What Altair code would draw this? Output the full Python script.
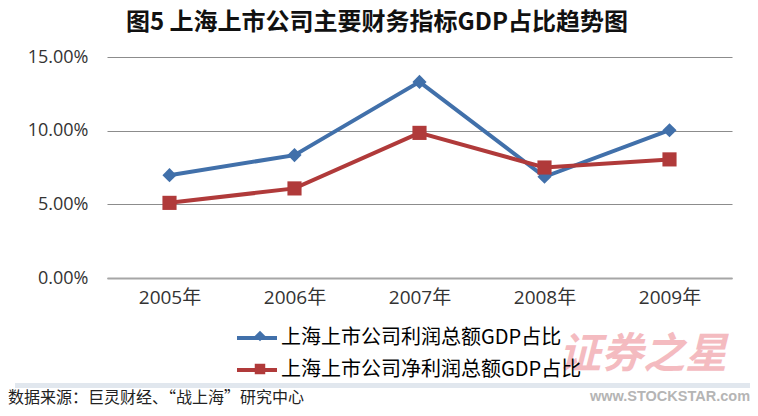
import altair as alt
import pandas as pd

years = ["2005年", "2006年", "2007年", "2008年", "2009年"]
profit_ratio = [0.0698, 0.0834, 0.1331, 0.0687, 0.1003]
net_profit_ratio = [0.0510, 0.0608, 0.0985, 0.0750, 0.0805]
series_names = ["上海上市公司利润总额GDP占比", "上海上市公司净利润总额GDP占比"]
marker_keys = ["diamond", "square"]
series_colors = ["#4170aa", "#b03a3a"]
y_ticks = [0, 0.05, 0.10, 0.15]
title_text = "图5 上海上市公司主要财务指标GDP占比趋势图"
source_text = "数据来源：巨灵财经、“战上海”研究中心"
watermark_cn = "证券之星"
watermark_en = "www.STOCKSTAR.com"

rows = []
for name, mk, vals in zip(series_names, marker_keys, [profit_ratio, net_profit_ratio]):
    for yr, v in zip(years, vals):
        rows.append({"year": yr, "series": name, "marker": mk, "value": v})
df = pd.DataFrame(rows)

W, H = 625, 221

x_enc = alt.X(
    "year:N", sort=years,
    scale=alt.Scale(type="point", padding=0.5),
    axis=alt.Axis(title=None, labelAngle=0, ticks=False, domain=True,
                  domainColor="#a6a6a6", domainWidth=2,
                  labelFont="Open Sans, Noto Sans CJK SC", labelFontSize=19,
                  labelColor="#333333", labelPadding=10),
)
y_enc = alt.Y(
    "value:Q",
    scale=alt.Scale(domain=[0, 0.15], nice=False, zero=True),
    axis=alt.Axis(title=None, values=y_ticks, format=".2%", grid=True,
                  gridColor="#8c8c8c", gridWidth=1.2, domain=False, ticks=False,
                  labelFont="Open Sans", labelFontSize=18, labelColor="#333333",
                  labelPadding=19),
)

# legend A: line segments + labels (from the line layer)
legend_lines = alt.Legend(
    orient="none", legendX=128, legendY=259, title=None, direction="vertical",
    labelFont="Noto Sans CJK SC", labelFontSize=20, labelColor="#000000",
    labelLimit=500, symbolType="stroke", symbolSize=1600, symbolStrokeWidth=4,
    symbolOpacity=1, labelOffset=2, rowPadding=-29, padding=0,
)
# legend B: markers only, laid over the centre of the line segments (from the point layer)
legend_markers = alt.Legend(
    orient="none", legendX=143, legendY=269, title=None, direction="vertical",
    labelFontSize=20, labelExpr="' '", labelOpacity=0,
    symbolSize=110, symbolStrokeWidth=0, symbolOpacity=1, labelOffset=4,
    rowPadding=13, padding=0,
)

lines = alt.Chart(df).mark_line(strokeWidth=4).encode(
    x=x_enc, y=y_enc,
    color=alt.Color("series:N", sort=series_names,
                    scale=alt.Scale(domain=series_names, range=series_colors),
                    legend=legend_lines),
)
points = alt.Chart(df).mark_point(filled=True, opacity=1, size=200, strokeWidth=0).encode(
    x=x_enc, y=y_enc,
    fill=alt.Fill("marker:N", scale=alt.Scale(domain=marker_keys, range=series_colors),
                  legend=legend_markers),
    shape=alt.Shape("marker:N", scale=alt.Scale(domain=marker_keys, range=marker_keys),
                    legend=legend_markers),
)

shadow = alt.Chart(pd.DataFrame({"a": [0]})).mark_rect(color="#d9e1ea", opacity=0.8).encode(
    x=alt.value(-92), x2=alt.value(643), y=alt.value(326), y2=alt.value(331)
)

title = alt.Chart(pd.DataFrame({"t": [title_text]})).mark_text(
    font="Noto Sans CJK SC", fontSize=24, fontWeight="bold", color="#111111",
    align="center", baseline="middle"
).encode(x=alt.value(270), y=alt.value(-34), text="t:N")

source = alt.Chart(pd.DataFrame({"t": [source_text]})).mark_text(
    font="Noto Sans CJK SC", fontSize=16, color="#222222", align="left", baseline="middle"
).encode(x=alt.value(-99), y=alt.value(341), text="t:N")

wm_cn = alt.Chart(pd.DataFrame({"t": [watermark_cn]})).mark_text(
    font="Noto Sans CJK SC", fontSize=42, fontWeight="bold", fontStyle="italic",
    color="#f3b0b6", opacity=0.85, align="center", baseline="middle"
).encode(x=alt.value(536), y=alt.value(298), text="t:N")

wm_en = alt.Chart(pd.DataFrame({"t": [watermark_en]})).mark_text(
    font="Liberation Sans", fontSize=14.5, fontWeight="bold",
    color="#b5b5b5", align="center", baseline="middle"
).encode(x=alt.value(563), y=alt.value(340), text="t:N")

chart = alt.layer(shadow, lines, points, title, source, wm_cn, wm_en).properties(
    width=W, height=H,
    autosize=alt.AutoSizeParams(type="none"),
    padding={"left": 99, "top": 49, "right": 18, "bottom": 130},
    background="white",
).configure_view(stroke=None)

chart.save("out.html", embed_options={"renderer": "svg", "actions": False})
